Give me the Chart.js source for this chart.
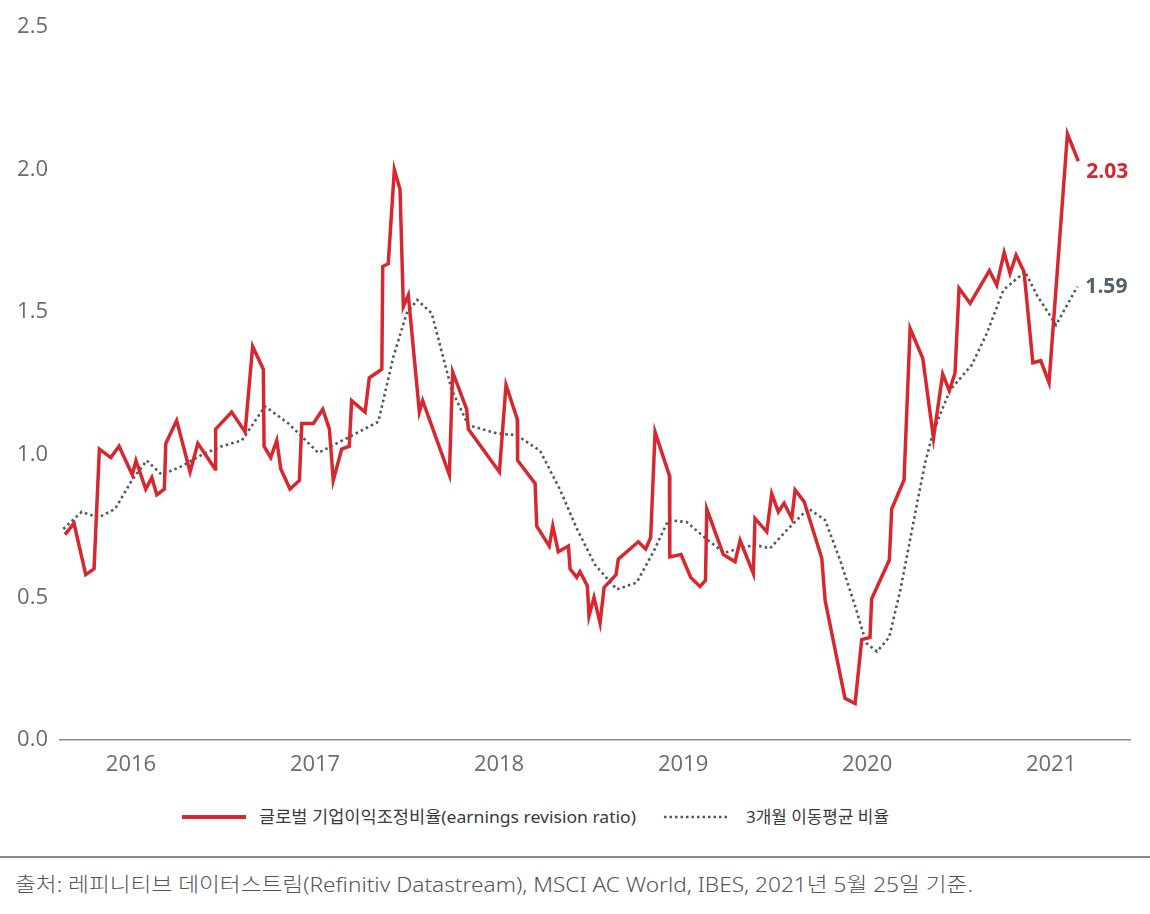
<!DOCTYPE html>
<html>
<head>
<meta charset="utf-8">
<script src="https://cdn.jsdelivr.net/npm/chart.js@4.4.1/dist/chart.umd.min.js"></script>
<style>
  html, body { margin:0; padding:0; background:#fff; width:1150px; height:914px; overflow:hidden; }
  #wrap { position:absolute; left:0; top:0; width:1150px; height:790px; }
  .leg { position:absolute; font-family:"Noto Sans","Noto Sans CJK KR",sans-serif; font-size:17px; color:#3a3a3a; line-height:20px; white-space:nowrap; transform-origin:0 50%; }
  #rule { position:absolute; left:0; top:856px; width:1150px; height:2px; background:#8a8a8a; }
  #source { position:absolute; left:15px; top:869px; font-family:"Noto Sans","Noto Sans CJK KR",sans-serif; font-weight:300; font-size:20.5px; color:#555; line-height:30px; white-space:nowrap; transform-origin:0 50%; }
</style>
</head>
<body>
<div id="wrap"><canvas id="c" width="1150" height="790"></canvas></div>
<svg style="position:absolute;left:182px;top:813px" width="64" height="8"><line x1="0" y1="4" x2="64" y2="4" stroke="#d7282f" stroke-width="4"/></svg>
<div class="leg" data-w="377" style="left:259px;top:807px;">글로벌 기업이익조정비율(earnings revision ratio)</div>
<svg style="position:absolute;left:664px;top:813px" width="66" height="8"><line x1="0" y1="4" x2="66" y2="4" stroke="#4d5862" stroke-width="2.5" stroke-dasharray="2.5,3"/></svg>
<div class="leg" data-w="143" style="left:746px;top:807px;">3개월 이동평균 비율</div>
<div id="rule"></div>
<div id="source" data-w="958">출처: 레피니티브 데이터스트림(Refinitiv Datastream), MSCI AC World, IBES, 2021년 5월 25일 기준.</div>
<script>
// ---- data (decimal year, ratio) ----
const revisionX = [2015.641,2015.690,2015.754,2015.799,2015.828,2015.890,2015.935,2016.007,2016.027,2016.080,
  2016.113,2016.140,2016.181,2016.189,2016.248,2016.321,2016.363,2016.457,2016.460,2016.547,
  2016.620,2016.661,2016.719,2016.723,2016.759,2016.792,2016.814,2016.864,2016.915,2016.928,
  2016.991,2017.042,2017.078,2017.099,2017.145,2017.186,2017.199,2017.272,2017.295,2017.363,
  2017.368,2017.398,2017.431,2017.462,2017.480,2017.507,2017.567,2017.585,2017.730,2017.748,
  2017.824,2017.833,2018.002,2018.038,2018.099,2018.101,2018.196,2018.205,2018.273,2018.292,
  2018.322,2018.377,2018.386,2018.422,2018.440,2018.480,2018.489,2018.516,2018.549,2018.571,
  2018.636,2018.648,2018.757,2018.797,2018.824,2018.848,2018.926,2018.928,2018.989,2019.042,
  2019.092,2019.122,2019.129,2019.219,2019.283,2019.310,2019.382,2019.391,2019.455,2019.482,
  2019.518,2019.549,2019.591,2019.609,2019.658,2019.754,2019.772,2019.880,2019.935,2019.971,
  2020.016,2020.025,2020.121,2020.134,2020.201,2020.234,2020.303,2020.361,2020.411,2020.447,
  2020.478,2020.500,2020.560,2020.665,2020.705,2020.745,2020.777,2020.810,2020.853,2020.901,
  2020.944,2020.989,2021.089,2021.148];
const revisionY = [0.72,0.76,0.58,0.60,1.02,0.99,1.03,0.93,0.98,0.88,
  0.92,0.86,0.88,1.04,1.12,0.94,1.04,0.95,1.09,1.15,
  1.08,1.38,1.30,1.03,0.99,1.05,0.95,0.88,0.91,1.11,
  1.11,1.16,1.09,0.91,1.02,1.03,1.19,1.15,1.27,1.30,
  1.66,1.67,2.00,1.93,1.52,1.56,1.15,1.19,0.93,1.29,
  1.16,1.09,0.94,1.245,1.125,0.98,0.90,0.75,0.68,0.75,
  0.66,0.68,0.60,0.57,0.59,0.54,0.435,0.50,0.41,0.535,
  0.58,0.634,0.695,0.67,0.71,1.08,0.927,0.642,0.65,0.57,
  0.538,0.56,0.81,0.65,0.625,0.70,0.584,0.777,0.73,0.863,
  0.80,0.83,0.777,0.877,0.836,0.637,0.49,0.146,0.128,0.352,
  0.36,0.495,0.631,0.81,0.912,1.443,1.338,1.058,1.283,1.225,
  1.286,1.584,1.531,1.646,1.595,1.709,1.636,1.70,1.642,1.323,
  1.33,1.253,2.125,2.03];

const avgX = [2015.632,2015.732,2015.822,2015.913,2016.004,2016.085,2016.167,2016.276,2016.384,2016.493,
  2016.602,2016.728,2016.855,2017.018,2017.154,2017.344,2017.426,2017.498,2017.556,2017.634,
  2017.743,2017.833,2017.988,2018.096,2018.223,2018.332,2018.422,2018.522,2018.640,2018.748,
  2018.839,2018.920,2019.020,2019.129,2019.223,2019.310,2019.391,2019.473,2019.564,2019.681,
  2019.772,2019.853,2019.935,2019.995,2020.054,2020.120,2020.179,2020.230,2020.279,2020.315,
  2020.359,2020.451,2020.569,2020.651,2020.741,2020.859,2020.923,2021.027,2021.143];
const avgY = [0.74,0.80,0.78,0.81,0.91,0.98,0.93,0.96,1.00,1.03,
  1.05,1.17,1.11,1.007,1.052,1.116,1.344,1.496,1.543,1.496,
  1.227,1.104,1.075,1.069,1.014,0.877,0.742,0.614,0.528,0.552,
  0.66,0.771,0.764,0.704,0.656,0.672,0.684,0.672,0.736,0.812,
  0.771,0.632,0.47,0.34,0.31,0.36,0.52,0.689,0.853,0.97,
  1.08,1.227,1.315,1.426,1.578,1.642,1.56,1.455,1.59];

const yearTicks = [2016, 2017, 2018, 2019, 2020, 2021];
const yTicks = [0, 0.5, 1.0, 1.5, 2.0, 2.5];
const seriesNames = ['글로벌 기업이익조정비율(earnings revision ratio)', '3개월 이동평균 비율'];
const endLabels = ['2.03', '1.59'];

const RED = '#d7282f';
const GRAY = '#4d5862';

// fit HTML text blocks to the widths measured on the reference
document.querySelectorAll('[data-w]').forEach(el => {
  const w = el.getBoundingClientRect().width;
  const t = parseFloat(el.dataset.w);
  if (w > 0) el.style.transform = 'scaleX(' + (t / w) + ')';
});

const endLabelPlugin = {
  id: 'endLabelPlugin',
  afterDatasetsDraw(chart) {
    const ctx = chart.ctx;
    const offs = [11, 0];
    const cols = [RED, '#555f68'];
    chart.data.datasets.forEach((ds, i) => {
      const meta = chart.getDatasetMeta(i);
      const p = meta.data[meta.data.length - 1];
      ctx.save();
      ctx.font = 'bold 21px "Open Sans"';
      ctx.fillStyle = cols[i];
      ctx.textBaseline = 'middle';
      ctx.textAlign = 'left';
      ctx.fillText(endLabels[i], p.x + 8, p.y + offs[i]);
      ctx.restore();
    });
  }
};

new Chart(document.getElementById('c'), {
  type: 'line',
  data: {
    datasets: [
      {
        label: seriesNames[0],
        data: revisionX.map((x, i) => ({ x, y: revisionY[i] })),
        borderColor: RED,
        borderWidth: 3.5,
        pointRadius: 0,
        tension: 0,
        fill: false,
        order: 1
      },
      {
        label: seriesNames[1],
        data: avgX.map((x, i) => ({ x, y: avgY[i] })),
        borderColor: GRAY,
        borderWidth: 2.6,
        borderDash: [2.5, 3.2],
        pointRadius: 0,
        tension: 0,
        fill: false,
        order: 2
      }
    ]
  },
  options: {
    responsive: false,
    animation: false,
    devicePixelRatio: 1,
    layout: { padding: { left: 0, right: 20, top: 27, bottom: 0 } },
    plugins: { legend: { display: false }, tooltip: { enabled: false } },
    scales: {
      x: {
        type: 'linear',
        min: 2015.614,
        max: 2021.429,
        afterBuildTicks(scale) { scale.ticks = yearTicks.map(v => ({ value: v })); },
        afterFit(scale) { scale.height = 50; },
        grid: { display: false, drawTicks: false },
        border: { display: true, color: '#8a8a8a', width: 1.5 },
        ticks: {
          autoSkip: false,
          maxRotation: 0,
          padding: 12,
          color: '#6b6b6b',
          font: { family: '"Open Sans"', size: 22 },
          callback: v => String(v)
        }
      },
      y: {
        min: 0,
        max: 2.5,
        afterBuildTicks(scale) { scale.ticks = yTicks.map(v => ({ value: v })); },
        afterFit(scale) { scale.width = 60; },
        grid: { display: false, drawTicks: false },
        border: { display: false },
        ticks: {
          padding: 12,
          color: '#6b6b6b',
          font: { family: '"Open Sans"', size: 22 },
          callback: v => Number(v).toFixed(1)
        }
      }
    }
  },
  plugins: [endLabelPlugin]
});
</script>
</body>
</html>
